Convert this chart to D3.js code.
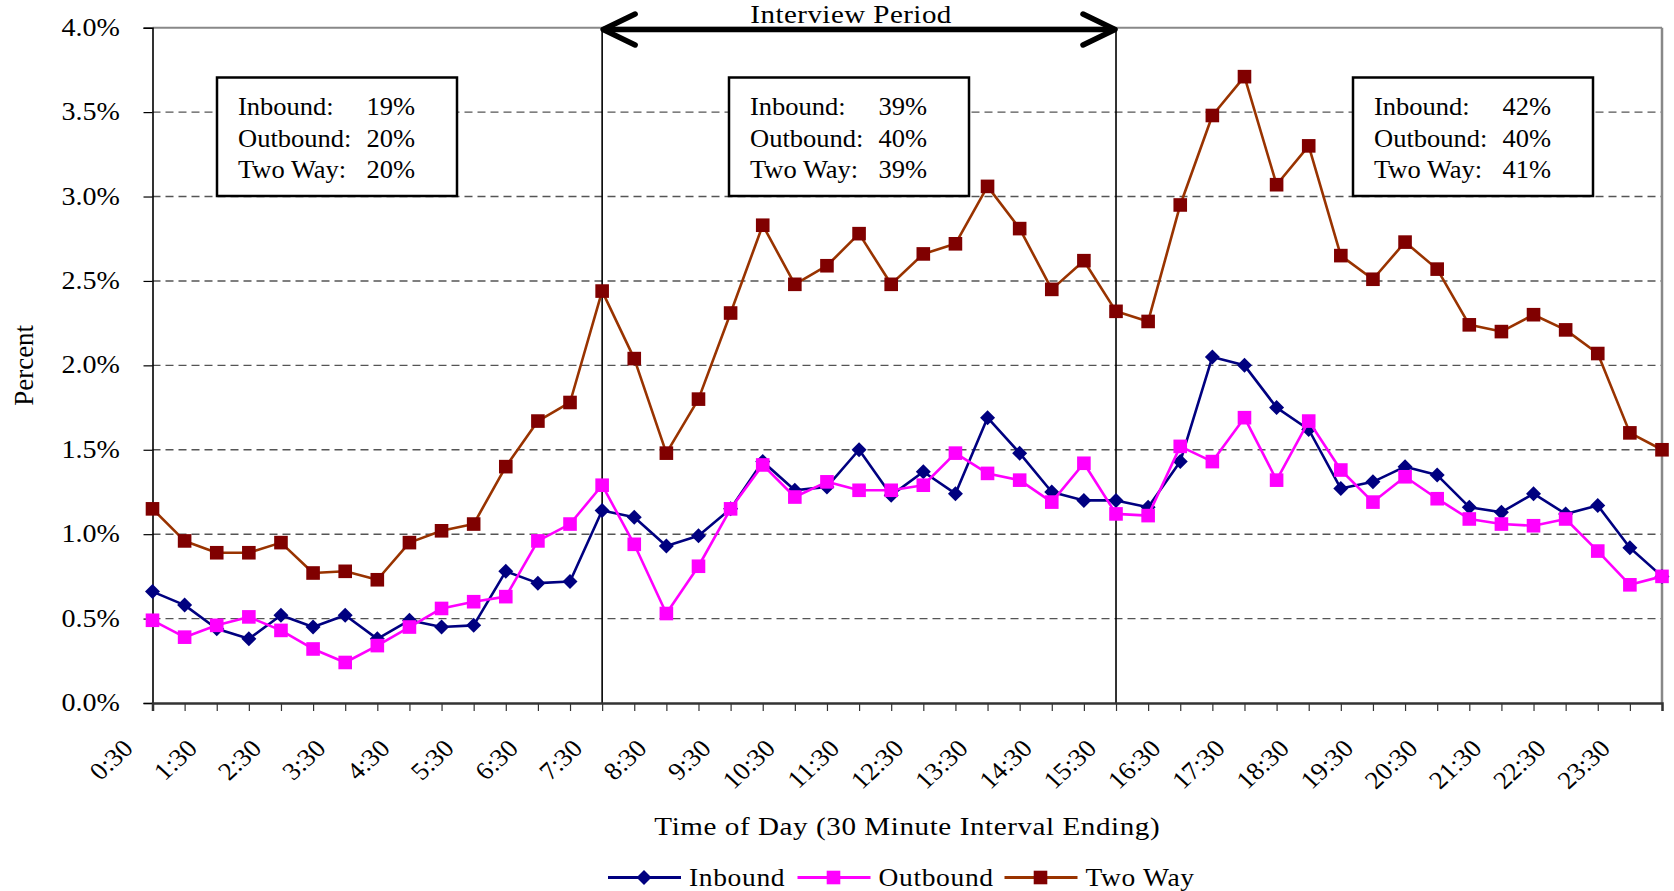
<!DOCTYPE html>
<html>
<head>
<meta charset="utf-8">
<script src="https://cdn.jsdelivr.net/npm/d3@7"></script>
<style>
  html, body { margin: 0; padding: 0; background: #fff; }
  svg { display: block; }
  text { font-family: "Liberation Serif", "Times New Roman", serif; fill: #000; }
</style>
</head>
<body>
<svg id="chart" width="1674" height="891"></svg>
<script>
// ---------------- DATA ----------------
const times = ["0:30","1:00","1:30","2:00","2:30","3:00","3:30","4:00","4:30","5:00","5:30","6:00",
  "6:30","7:00","7:30","8:00","8:30","9:00","9:30","10:00","10:30","11:00","11:30","12:00",
  "12:30","13:00","13:30","14:00","14:30","15:00","15:30","16:00","16:30","17:00","17:30","18:00",
  "18:30","19:00","19:30","20:00","20:30","21:00","21:30","22:00","22:30","23:00","23:30","24:00"];
const tickLabels = ["0:30","1:30","2:30","3:30","4:30","5:30","6:30","7:30","8:30","9:30","10:30","11:30",
  "12:30","13:30","14:30","15:30","16:30","17:30","18:30","19:30","20:30","21:30","22:30","23:30"];
const inbound = [0.66,0.58,0.44,0.38,0.52,0.45,0.52,0.38,0.49,0.45,0.46,0.78,0.71,0.72,1.14,1.10,
  0.93,0.99,1.15,1.43,1.26,1.28,1.50,1.23,1.37,1.24,1.69,1.48,1.25,1.20,1.20,1.16,1.43,2.05,2.00,
  1.75,1.62,1.27,1.31,1.40,1.35,1.16,1.13,1.24,1.12,1.17,0.92,0.75];
const outbound = [0.49,0.39,0.46,0.51,0.43,0.32,0.24,0.34,0.45,0.56,0.60,0.63,0.96,1.06,1.29,0.94,
  0.53,0.81,1.15,1.41,1.22,1.31,1.26,1.26,1.29,1.48,1.36,1.32,1.19,1.42,1.12,1.11,1.52,1.43,1.69,
  1.32,1.67,1.38,1.19,1.34,1.21,1.09,1.06,1.05,1.09,0.90,0.70,0.75];
const twoWay = [1.15,0.96,0.89,0.89,0.95,0.77,0.78,0.73,0.95,1.02,1.06,1.40,1.67,1.78,2.44,2.04,
  1.48,1.80,2.31,2.83,2.48,2.59,2.78,2.48,2.66,2.72,3.06,2.81,2.45,2.62,2.32,2.26,2.95,3.48,3.71,
  3.07,3.30,2.65,2.51,2.73,2.57,2.24,2.20,2.30,2.21,2.07,1.60,1.50];
const yTicks = [0,0.5,1.0,1.5,2.0,2.5,3.0,3.5,4.0];
const seriesNames = ["Inbound","Outbound","Two Way"];
const periodBounds = ["7:30","15:30"];
const periodTitle = "Interview Period";
const shareLabels = ["Inbound:","Outbound:","Two Way:"];
const sharesEarly = [19,20,20];
const sharesInterview = [39,40,39];
const sharesLate = [42,40,41];
const xTitle = "Time of Day (30 Minute Interval Ending)";
const yTitle = "Percent";

// ---------------- LAYOUT ----------------
const L = 152.5, R = 1662, T = 27.7, B = 703;
const SX = 1.08; // horizontal stretch of the original text rendering
const svg = d3.select("#chart");

const x = d3.scalePoint().domain(times).range([L, R]);
const y = d3.scaleLinear().domain([0, 4]).range([B, T]);

function txt(g, px, py, s, o = {}) {
  const t = g.append("text")
    .attr("transform", `translate(${px},${py}) scale(${o.sx || SX},1)` + (o.rot ? ` rotate(${o.rot})` : ""))
    .attr("text-anchor", o.anchor || "start")
    .style("font-size", (o.size || 26) + "px")
    .text(s);
  if (o.ls) t.style("letter-spacing", o.ls + "px");
  return t;
}

// gridlines
const grid = svg.append("g");
grid.selectAll("line").data(yTicks.filter(v => v > 0 && v < 4)).join("line")
  .attr("x1", L).attr("x2", R).attr("y1", d => y(d)).attr("y2", d => y(d))
  .attr("stroke", "#555").attr("stroke-width", 1.4).attr("stroke-dasharray", "8,5");

// plot border (top / right grey)
svg.append("line").attr("x1", L).attr("x2", R).attr("y1", T).attr("y2", T)
  .attr("stroke", "#888").attr("stroke-width", 2);
svg.append("line").attr("x1", R).attr("x2", R).attr("y1", T).attr("y2", B)
  .attr("stroke", "#888").attr("stroke-width", 2.5);

// period vertical lines
svg.selectAll(".pline").data(periodBounds).join("line")
  .attr("x1", d => x(d)).attr("x2", d => x(d)).attr("y1", T).attr("y2", B)
  .attr("stroke", "#000").attr("stroke-width", 1.6);

// y axis
const yAxis = d3.axisLeft(y).tickValues(yTicks).tickSize(9).tickFormat("");
const gy = svg.append("g").attr("transform", `translate(${L},0)`).call(yAxis);
gy.select(".domain").attr("stroke", "#000").attr("stroke-width", 1.6);
gy.selectAll(".tick line").attr("stroke", "#000").attr("stroke-width", 1.2);
yTicks.forEach(v => txt(svg, 120, y(v) + 8, v.toFixed(1) + "%", { anchor: "end" }));

// x axis
const xAxis = d3.axisBottom(x).tickSize(8).tickFormat("");
const gx = svg.append("g").attr("transform", `translate(0,${B})`).call(xAxis);
gx.select(".domain").attr("stroke", "#333").attr("stroke-width", 2.5);
gx.selectAll(".tick line").attr("stroke", "#333").attr("stroke-width", 1.2);
tickLabels.forEach(lbl => txt(svg, x(lbl) - 18, B + 47, lbl, { anchor: "end", rot: -45, size: 25 }));

// axis titles
txt(svg, 33, (T + B) / 2, yTitle, { anchor: "middle", rot: -90, size: 27, sx: 1.05 });
txt(svg, (L + R) / 2, 835, xTitle, { anchor: "middle", size: 26, sx: 1.12, ls: 0.5 });

// share boxes
const boxDefs = [
  { left: 217, vals: sharesEarly },
  { left: 729, vals: sharesInterview },
  { left: 1353, vals: sharesLate }
];
boxDefs.forEach(b => {
  const g = svg.append("g");
  g.append("rect").attr("x", b.left).attr("y", 77.5).attr("width", 240).attr("height", 118.5)
    .attr("fill", "#fff").attr("stroke", "#000").attr("stroke-width", 2.5);
  shareLabels.forEach((s, i) => {
    txt(g, b.left + 21, 115 + i * 31.6, s, { sx: 1.02 });
    txt(g, b.left + 198, 115 + i * 31.6, b.vals[i] + "%", { anchor: "end", sx: 1.02 });
  });
});

// series
const seriesDefs = [
  { name: seriesNames[0], data: inbound, line: "#000080", fill: "#000080", shape: "diamond" },
  { name: seriesNames[1], data: outbound, line: "#FF00FF", fill: "#FF00FF", shape: "square" },
  { name: seriesNames[2], data: twoWay, line: "#993300", fill: "#800000", shape: "square" }
];
function marker(g, cx, cy, s) {
  if (s.shape === "diamond") {
    g.append("path").attr("d", `M${cx},${cy - 7.5}L${cx + 7.5},${cy}L${cx},${cy + 7.5}L${cx - 7.5},${cy}Z`)
      .attr("fill", s.fill);
  } else {
    g.append("rect").attr("x", cx - 6.8).attr("y", cy - 6.8).attr("width", 13.6).attr("height", 13.6)
      .attr("fill", s.fill);
  }
}
const line = d3.line().x((d, i) => x(times[i])).y(d => y(d));
seriesDefs.forEach(s => {
  const g = svg.append("g");
  g.append("path").datum(s.data).attr("d", line).attr("fill", "none")
    .attr("stroke", s.line).attr("stroke-width", 2.6).attr("stroke-linejoin", "round");
  s.data.forEach((v, i) => marker(g, x(times[i]), y(v), s));
});

// interview period arrow
const ax1 = x(periodBounds[0]), ax2 = x(periodBounds[1]), ay = 29.5;
const ag = svg.append("g").attr("stroke", "#000").attr("fill", "none")
  .attr("stroke-linecap", "round").attr("stroke-linejoin", "round");
ag.append("line").attr("x1", ax1 + 2).attr("x2", ax2 - 2).attr("y1", ay).attr("y2", ay).attr("stroke-width", 5.5);
ag.append("path").attr("d", `M${ax1 + 33},${ay - 15.5}L${ax1 + 1},${ay}L${ax1 + 33},${ay + 15.5}`).attr("stroke-width", 5.5);
ag.append("path").attr("d", `M${ax2 - 33},${ay - 15.5}L${ax2 - 1},${ay}L${ax2 - 33},${ay + 15.5}`).attr("stroke-width", 5.5);
txt(svg, (ax1 + ax2) / 2 - 8, 22.5, periodTitle, { anchor: "middle", size: 25, sx: 1.16, ls: 0.4 });

// legend
const legX = [608, 797.5, 1004.5];
const legY = 877.5;
seriesDefs.forEach((s, i) => {
  const g = svg.append("g");
  g.append("line").attr("x1", legX[i]).attr("x2", legX[i] + 73).attr("y1", legY).attr("y2", legY)
    .attr("stroke", s.line).attr("stroke-width", 3);
  marker(g, legX[i] + 36, legY, s);
  txt(g, legX[i] + 81, legY + 8, s.name, { size: 25, sx: 1.1, ls: 0.6 });
});
</script>
</body>
</html>
